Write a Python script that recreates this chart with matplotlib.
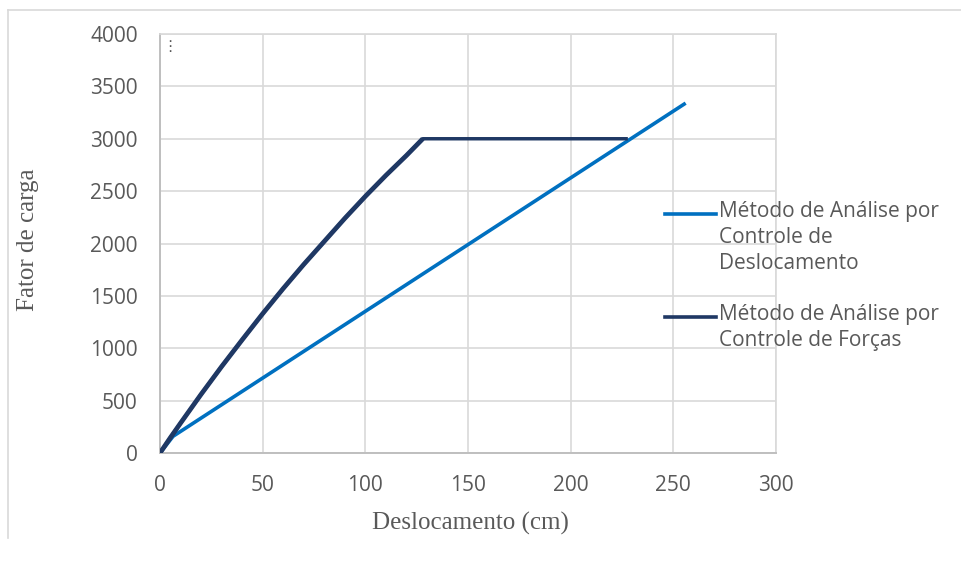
import matplotlib
matplotlib.use("Agg")
import matplotlib.pyplot as plt
from matplotlib.lines import Line2D

# ---- data ----
disp_x = [0, 6.4, 256]
disp_y = [0, 160, 3340]

force_x = [0, 5, 10, 20, 30, 40, 50, 60, 70, 80, 90, 100, 110, 120, 128, 227]
force_y = [0, 145, 285, 560, 825, 1080, 1330, 1570, 1800, 2020, 2240, 2450, 2650, 2840, 3000, 3000]

x_ticks = [0, 50, 100, 150, 200, 250, 300]
y_ticks = [0, 500, 1000, 1500, 2000, 2500, 3000, 3500, 4000]

label_disp = "Método de Análise por\nControle de\nDeslocamento"
label_force = "Método de Análise por\nControle de Forças"

c_disp = "#0070C0"
c_force = "#1F3864"
grid_c = "#D9D9D9"
text_c = "#595959"

W, H = 961, 574
fig = plt.figure(figsize=(W / 100, H / 100), dpi=100)
L, R, B, T = 160, 776, 453, 34
ax = fig.add_axes([L / W, (H - B) / H, (R - L) / W, (B - T) / H])

ax.plot(disp_x, disp_y, color=c_disp, lw=2.6, solid_capstyle="butt", zorder=3)
ax.plot(force_x, force_y, color=c_force, lw=2.5, solid_joinstyle="round", zorder=4)
# the densely sampled loading branch renders heavier in the reference
ax.plot(force_x[:15], force_y[:15], color=c_force, lw=3.4, solid_joinstyle="round",
        solid_capstyle="butt", zorder=4)

ax.set_xlim(0, 300)
ax.set_ylim(0, 4000)
ax.set_xticks(x_ticks)
ax.set_yticks(y_ticks)
ax.grid(True, color=grid_c, lw=1.2, zorder=0)
ax.tick_params(length=0, labelsize=15, labelcolor=text_c, pad=0)
for lab in ax.get_xticklabels() + ax.get_yticklabels():
    lab.set_family("Open Sans")
ax.tick_params(axis="y", pad=16)
ax.tick_params(axis="x", pad=16)
for s in ["top", "right"]:
    ax.spines[s].set_color(grid_c)
    ax.spines[s].set_linewidth(1.2)
for s in ["left", "bottom"]:
    ax.spines[s].set_color("#BFBFBF")
    ax.spines[s].set_linewidth(1.4)

fig.text(470 / W, 1 - 523 / H, "Deslocamento (cm)", ha="center", va="center",
         fontsize=18, family="Liberation Serif", color=text_c)
fig.text(28 / W, 1 - 240 / H, "Fator de carga", ha="center", va="center",
         rotation=90, fontsize=18, family="Liberation Serif", color=text_c)

# legend drawn manually (handle aligned with first line)
def legend_entry(y_px, color, text):
    fig.add_artist(Line2D([665 / W, 716 / W], [1 - y_px / H, 1 - y_px / H],
                          color=color, lw=2.6, transform=fig.transFigure))
    fig.text(719 / W, 1 - (y_px - 13) / H, text, ha="left", va="top",
             fontsize=15, family="Open Sans", color=text_c, linespacing=1.3)

legend_entry(214, c_disp, label_disp)
legend_entry(317, c_force, label_force)

# chart area border and menu dots
fig.add_artist(Line2D([8 / W, 1], [1 - 10 / H, 1 - 10 / H], color=grid_c, lw=1.2,
                      transform=fig.transFigure))
fig.add_artist(Line2D([8 / W, 8 / W], [1 - 10 / H, 1 - 538 / H], color=grid_c, lw=1.2,
                      transform=fig.transFigure))
fig.text(170 / W, 1 - 47 / H, "⋮", ha="center", va="center", fontsize=11,
         family="DejaVu Sans", color="#595959")

fig.savefig("out.png", dpi=100)
